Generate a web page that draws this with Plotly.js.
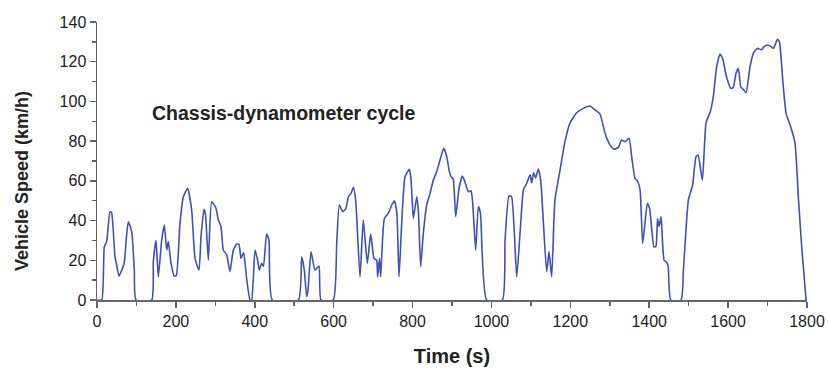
<!DOCTYPE html>
<html>
<head>
<meta charset="utf-8">
<script src="https://cdn.plot.ly/plotly-3.0.1.min.js"></script>
<style>html,body{margin:0;padding:0;background:#fff;}#chart{width:829px;height:370px;}</style>
</head>
<body>
<div id="chart"></div>
<script>
const timeS = [0,12,18.5,24.5,33,37,45.6,50,55.8,62.5,69,75,79.5,88,94.6,99,138.6,142.8,149.6,155.5,164,170.7,176.7,180.9,187.6,196,201,210.4,218.9,229.7,240,248.5,258.6,263.7,271.3,275,282.3,290.5,297.5,302,307.6,314.4,320.2,328.8,337.2,345.6,354.2,360,365,371.7,379.3,388,392,400.6,407.2,411.4,417.3,422,430,436,444.5,510.5,518.9,525.6,531.5,535,542.6,552.7,562.8,568,599,607.7,614.4,622.8,631,637.3,644,650,656,666.8,675,685.3,693.8,702.3,709,711.4,716,719,728.5,738.6,747,754,760,765.7,772.4,781,791.8,796,802,810.6,815,820.5,827.3,835.8,844.3,852.7,861.2,869.7,879,887,893,897.6,903,909.4,917.8,926.2,932,941.5,948,952,960,966.8,972,988,1027.7,1034.5,1044.6,1051,1064,1072.5,1081,1089.4,1098,1102,1107,1112,1119,1125,1140,1146,1152.7,1161,1174,1186.6,1199,1216,1233,1250,1262.7,1275,1288,1300.7,1311,1322,1330,1339,1348.8,1355.5,1364,1370,1376.8,1383.5,1395.3,1401,1412,1417,1421,1425,1430,1437.6,1444,1448,1454.6,1480.7,1486.7,1499.3,1510,1518.7,1524,1534.7,1544,1556,1562.5,1571,1579.6,1587,1594.8,1606.6,1613,1620,1626,1632,1638.6,1645.5,1655.6,1664,1674,1685,1691,1700,1709,1715,1725,1730,1738.5,1747,1758.7,1769.7,1778,1786.6,1797.6];
const speedKmh = [0,0,26.8,29.4,44.5,44,21.8,17.6,12,15,18.5,32.7,39.4,34.4,15,0,0,19.3,29.9,11.7,30.2,37.8,25.2,29.4,18.5,12,12.3,38.6,52,56.2,45.3,21,15.1,31.9,45.7,43,20.1,49.5,47.8,46,40.3,36.9,25.2,22.7,14.3,25.2,28.2,28,21,23.8,10.9,0,0,25.2,20.1,15.1,18.5,17,33.2,30.2,0,0,21.8,15,1.7,5,24.3,15.1,17.1,0,0,28.5,47.8,44.5,46,52,53.7,56.7,49.5,11.7,40.3,18.5,33.2,21,20,11.7,21,11.7,41,43.7,47.8,50,44,11.7,38.6,62.1,65.8,61,41.1,52,44,16.8,33.6,47.8,53.7,60.4,64.6,70.5,76.4,72,65,62.1,61,42,56.2,62.4,60,54.5,55,50,25.2,47,44,0,0,30.2,52.4,52,11.7,33.6,55.4,58.8,63,59,64,61.5,66,60,14.3,24.3,11.7,50.4,65.5,80,89,94.3,96.5,97.7,95.7,93.7,84,78,75.9,77,80.6,79.7,81.4,72.2,61.3,60,55.4,28.5,48.7,46,26.8,27,41,37,42,20.1,19,17,0,0,15.1,50.4,57.9,72.2,73,60.4,89,95.7,102.4,117.5,123.9,121,113.3,106.6,107,114.2,116.7,107.4,106,104.4,117.5,124.2,126.7,126,127.6,128.4,127.6,126.7,131.3,130,110.8,94,87.3,78.9,52,26.8,0];
const xTicks = [0,200,400,600,800,1000,1200,1400,1600,1800];
const yTicks = [0,20,40,60,80,100,120,140];
const xTitle = 'Time (s)';
const yTitle = 'Vehicle Speed (km/h)';
const label = 'Chassis-dynamometer cycle';

const font = '"Liberation Sans", Arial, Helvetica, sans-serif';
const trace = {
  x: timeS, y: speedKmh, type: 'scatter', mode: 'lines',
  line: {color: '#3f51b5', width: 1.6, shape: 'spline', smoothing: 0.5},
  hoverinfo: 'skip'
};
const axisCommon = {
  showgrid: false, zeroline: false, showline: true, linecolor: '#666', linewidth: 1.5,
  ticks: 'outside', ticklen: 6, tickcolor: '#666', tickwidth: 1.5,
  tickfont: {family: font, size: 16, color: '#222'}
};
const layout = {
  width: 829, height: 370,
  margin: {l: 97, r: 22, t: 22, b: 70},
  paper_bgcolor: '#fff', plot_bgcolor: '#fff',
  showlegend: false,
  xaxis: Object.assign({}, axisCommon, {
    range: [0, 1800], tickvals: xTicks, ticktext: xTicks.map(String),
    minor: {tickvals: [100,300,500,700,900,1100,1300,1500,1700], ticks: 'outside', ticklen: 4, tickcolor: '#666', tickwidth: 1.5},
    title: {text: xTitle, font: {family: font, size: 20, color: '#222', weight: 'bold'}, standoff: 20}
  }),
  yaxis: Object.assign({}, axisCommon, {
    range: [0, 140], tickvals: yTicks, ticktext: yTicks.map(String),
    minor: {tickvals: [10,30,50,70,90,110,130], ticks: 'outside', ticklen: 4, tickcolor: '#666', tickwidth: 1.5}
  }),
  annotations: [{
    x: 474, y: 94, xref: 'x', yref: 'y', text: label, showarrow: false,
    font: {family: font, size: 19.5, color: '#222', weight: 'bold'}
  }, {
    x: -0.1056, y: 0.428, xref: 'paper', yref: 'paper', text: yTitle, showarrow: false,
    textangle: -90, xanchor: 'center', yanchor: 'middle',
    font: {family: font, size: 18, color: '#222', weight: 'bold'}
  }]
};
Plotly.newPlot('chart', [trace], layout, {displayModeBar: false, staticPlot: true});
</script>
</body>
</html>
